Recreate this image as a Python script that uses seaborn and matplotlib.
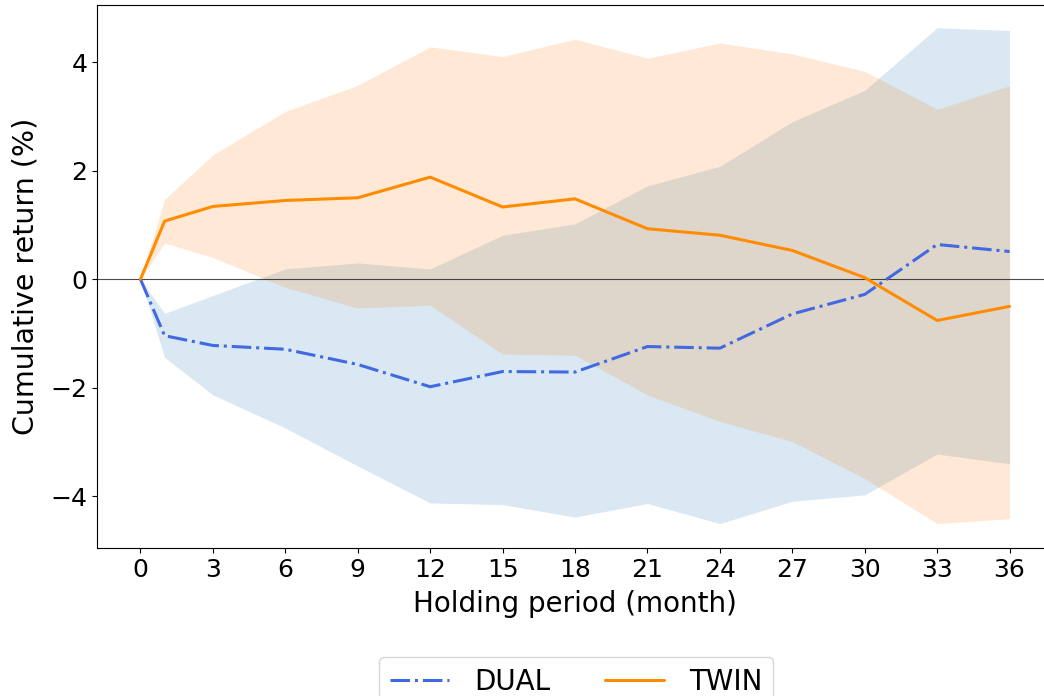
import matplotlib
matplotlib.use("Agg")
import matplotlib.pyplot as plt
import numpy as np
import pandas as pd
import seaborn as sns

# holding periods (months)
months = [0, 1, 3, 6, 9, 12, 15, 18, 21, 24, 27, 30, 33, 36]

# DUAL cumulative return and confidence band (%)
dual_mean = [0, -1.04, -1.22, -1.29, -1.57, -1.98, -1.70, -1.71, -1.24, -1.27, -0.64, -0.28, 0.64, 0.51]
dual_upper = [0, -0.63, -0.30, 0.19, 0.30, 0.19, 0.81, 1.02, 1.72, 2.08, 2.90, 3.48, 4.63, 4.58]
dual_lower = [0, -1.44, -2.13, -2.74, -3.44, -4.12, -4.15, -4.38, -4.13, -4.50, -4.09, -3.97, -3.22, -3.40]

# TWIN cumulative return and confidence band (%)
twin_mean = [0, 1.07, 1.34, 1.45, 1.50, 1.88, 1.33, 1.48, 0.93, 0.81, 0.53, 0.03, -0.76, -0.50]
twin_upper = [0, 1.47, 2.29, 3.09, 3.57, 4.28, 4.10, 4.42, 4.07, 4.35, 4.15, 3.83, 3.13, 3.56]
twin_lower = [0, 0.67, 0.40, -0.15, -0.53, -0.48, -1.38, -1.40, -2.13, -2.62, -2.99, -3.67, -4.50, -4.41]

xticks = list(range(0, 37, 3))

df = pd.DataFrame({
    "month": months * 2,
    "ret": dual_mean + twin_mean,
    "group": ["DUAL"] * len(months) + ["TWIN"] * len(months),
})

sns.set_style("ticks")
plt.rcParams["font.family"] = ["DejaVu Sans"]
for key in ["text.color", "axes.labelcolor", "xtick.color", "ytick.color", "axes.edgecolor"]:
    plt.rcParams[key] = "black"

fig, ax = plt.subplots(figsize=(10.44, 6.96), dpi=100)
fig.subplots_adjust(left=97 / 1044, right=1053 / 1044, top=1 - 5 / 696, bottom=1 - 548 / 696)

# confidence bands
ax.fill_between(months, dual_lower, dual_upper, color="tab:blue", alpha=0.17, linewidth=0)
ax.fill_between(months, twin_lower, twin_upper, color="tab:orange", alpha=0.17, linewidth=0)

sns.lineplot(data=df[df.group == "DUAL"], x="month", y="ret", ax=ax,
             color="royalblue", linestyle="-.", linewidth=2.2, label="DUAL")
sns.lineplot(data=df[df.group == "TWIN"], x="month", y="ret", ax=ax,
             color="darkorange", linestyle="-", linewidth=2.2, label="TWIN")

ax.axhline(0, color="black", linewidth=0.8, alpha=0.7, zorder=1)

ax.set_xticks(xticks)
ax.set_yticks([-4, -2, 0, 2, 4])
ax.set_ylim(-4.95, 5.05)
ax.tick_params(labelsize=18)
ax.set_xlabel("Holding period (month)", fontsize=20, labelpad=6)
ax.set_ylabel("Cumulative return (%)", fontsize=20.5, labelpad=8)

ax.get_legend().remove()
handles, labels = ax.get_legend_handles_labels()
fig.legend(handles, labels, loc="upper center", bbox_to_anchor=(0.552, 1 - 643 / 696),
           ncol=2, fontsize=20, frameon=True, handlelength=2.1, columnspacing=2.0,
           handletextpad=0.9)

fig.savefig("out.png", dpi=100)
